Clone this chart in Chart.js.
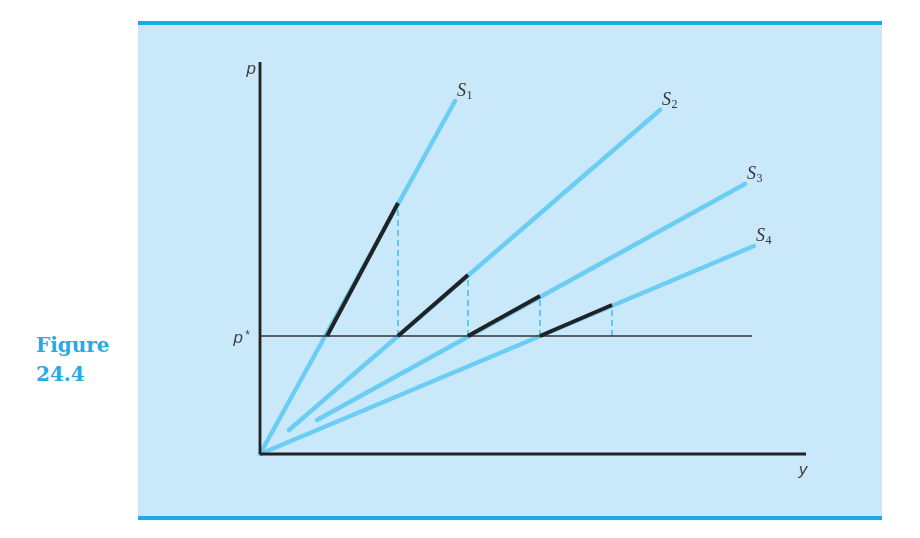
<!DOCTYPE html>
<html>
<head>
<meta charset="utf-8">
<script src="https://cdn.jsdelivr.net/npm/chart.js@4.4.1/dist/chart.umd.min.js"></script>
<style>
  html, body { margin: 0; padding: 0; background: #ffffff; }
  #wrap { position: relative; width: 920px; height: 538px; overflow: hidden; }
  #panel { position: absolute; left: 138px; top: 21px; width: 744px; height: 491px;
           background: #c9e8f9; border-top: 4px solid #1aaae6; border-bottom: 4px solid #1aaae6; }
  #fig { position: absolute; left: 36px; top: 331px; font-family: "DejaVu Serif", serif; font-weight: bold;
         font-size: 20px; line-height: 29px; color: #2aa9e2; }
  canvas { position: absolute; left: 0; top: 0; }
</style>
</head>
<body>
<div id="wrap">
  <div id="panel"></div>
  <div id="fig">Figure<br>24.4</div>
  <canvas id="c" width="920" height="538"></canvas>
</div>
<script>
// Axis extents (data units)
const xMax = 54.6;
const yMax = 39.2;
const pStar = 11.8;
const pStarEnd = 49.2;

// Supply curves S1..S4: start point, end point (x, y)
const curveNames = ["S1", "S2", "S3", "S4"];
const curveStartX = [0, 2.9, 5.7, 0];
const curveStartY = [0, 2.4, 3.4, 0];
const curveEndX = [19.5, 40.0, 48.5, 49.4];
const curveEndY = [35.3, 34.4, 27.0, 20.8];

// Black segments (from p* to kink) along each curve
const segStartX = [6.7, 13.8, 20.8, 28.0];
const segEndX = [13.8, 20.8, 28.0, 35.2];
const segEndY = [25.1, 17.9, 15.8, 14.9];

const blue = "#6ccdf4";
const dark = "#222222";

const datasets = [];
for (let i = 0; i < 4; i++) {
  datasets.push({
    data: [{x: curveStartX[i], y: curveStartY[i]}, {x: curveEndX[i], y: curveEndY[i]}],
    borderColor: blue, borderWidth: 4.5, borderCapStyle: "round", order: 5, clip: false
  });
  datasets.push({
    data: [{x: segEndX[i], y: pStar}, {x: segEndX[i], y: segEndY[i]}],
    borderColor: "#2fb6ea", borderWidth: 1.3, borderDash: [6, 4], order: 4, clip: false
  });
  datasets.push({
    data: [{x: segStartX[i], y: pStar}, {x: segEndX[i], y: segEndY[i]}],
    borderColor: dark, borderWidth: 4, borderCapStyle: "butt", order: 0, clip: false
  });
}
// p* line
datasets.push({ data: [{x: 0, y: pStar}, {x: pStarEnd, y: pStar}], borderColor: "#333", borderWidth: 1.6, order: 3, clip: false });
// axes
datasets.push({ data: [{x: 0, y: 0}, {x: 0, y: yMax}], borderColor: "#222", borderWidth: 2.8, order: 1, clip: false });
datasets.push({ data: [{x: 0, y: 0}, {x: xMax, y: 0}], borderColor: "#222", borderWidth: 2.8, order: 1, clip: false });

const labelPlugin = {
  id: "labels",
  afterDatasetsDraw(chart) {
    const ctx = chart.ctx;
    const xs = chart.scales.x, ys = chart.scales.y;
    ctx.save();
    // S labels
    for (let i = 0; i < 4; i++) {
      const px = xs.getPixelForValue(curveEndX[i]);
      const py = ys.getPixelForValue(curveEndY[i]);
      ctx.fillStyle = "#333";
      ctx.textBaseline = "alphabetic";
      ctx.textAlign = "left";
      ctx.font = "italic 18px 'Liberation Serif', serif";
      const sx = px + 2, sy = py - 5;
      ctx.fillText("S", sx, sy);
      const w = ctx.measureText("S").width;
      ctx.font = "12px 'Liberation Serif', serif";
      ctx.fillText(curveNames[i].slice(1), sx + w + 0.5, sy + 3);
    }
    ctx.fillStyle = "#444";
    ctx.font = "italic 17px 'Liberation Sans', sans-serif";
    // p label
    ctx.textAlign = "right";
    ctx.fillText("p", xs.getPixelForValue(0) - 4, ys.getPixelForValue(yMax) + 12);
    // p* label
    ctx.fillText("p", xs.getPixelForValue(0) - 17, ys.getPixelForValue(pStar) + 7);
    ctx.font = "12px 'Liberation Sans', sans-serif";
    ctx.fillText("*", xs.getPixelForValue(0) - 10, ys.getPixelForValue(pStar) + 3);
    // y label
    ctx.font = "italic 17px 'Liberation Sans', sans-serif";
    ctx.textAlign = "center";
    ctx.fillText("y", xs.getPixelForValue(xMax) - 3, ys.getPixelForValue(0) + 21);
    ctx.restore();
  }
};

new Chart(document.getElementById("c"), {
  type: "scatter",
  data: { datasets },
  options: {
    responsive: false,
    animation: false,
    showLine: true,
    elements: { point: { radius: 0, hoverRadius: 0 }, line: { tension: 0 } },
    layout: { padding: { left: 260, right: 114, top: 62, bottom: 84 } },
    scales: {
      x: { type: "linear", min: 0, max: xMax, display: false },
      y: { type: "linear", min: 0, max: yMax, display: false }
    },
    plugins: { legend: { display: false }, tooltip: { enabled: false } }
  },
  plugins: [labelPlugin]
});
</script>
</body>
</html>
